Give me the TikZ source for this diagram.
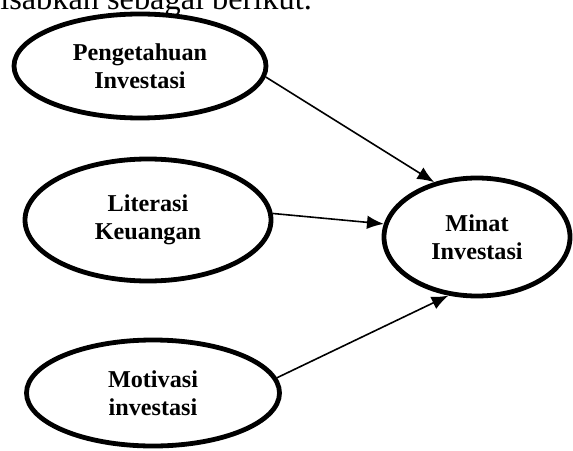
\documentclass[tikz,border=0pt]{standalone}
\usepackage{fontspec}
\setmainfont{Liberation Serif}
\usetikzlibrary{shapes.geometric, arrows.meta, math}

\tikzset{
var/.style={ellipse, draw, line width=0.12cm, inner sep=0pt, align=center, font=\bfseries\fontsize{17.2}{19.9}\selectfont},
link/.style={-{Latex[length=0.42cm,width=0.34cm]}, line width=0.04cm}
}

\begin{document}
\begin{tikzpicture}[scale=1]
\tikzmath{
\W=14.325;
\H=11.25;
\lw=6.3;
\lh=2.6;
}
\useasboundingbox (0,0) rectangle (\W,\H);
%text above
\node[anchor=base west, inner sep=0pt, font=\fontsize{23}{28}\selectfont] (txt) at (0,11.0) {isabkan sebagai berikut.};

%variables
\node[var, minimum width=\lw cm, minimum height=\lh cm] (peng) at (3.5,9.6) {Pengetahuan\\Investasi};
\node[var, minimum width=6.15cm, minimum height=3.05cm] (lit) at (3.7,5.75) {Literasi\\Keuangan};
\node[var, minimum width=6.325cm, minimum height=2.65cm] (mot) at (3.825,1.425) {Motivasi\\investasi};
\node[var, minimum width=4.65cm, minimum height=2.95cm] (minat) at (11.925,5.325) {Minat\\Investasi};

%arrows
\draw[link] (peng.-5) -- (minat.128);
\draw[link] (lit.3) -- (minat.172);
\draw[link] (mot.7) -- (minat.-116);
\end{tikzpicture}
\end{document}
